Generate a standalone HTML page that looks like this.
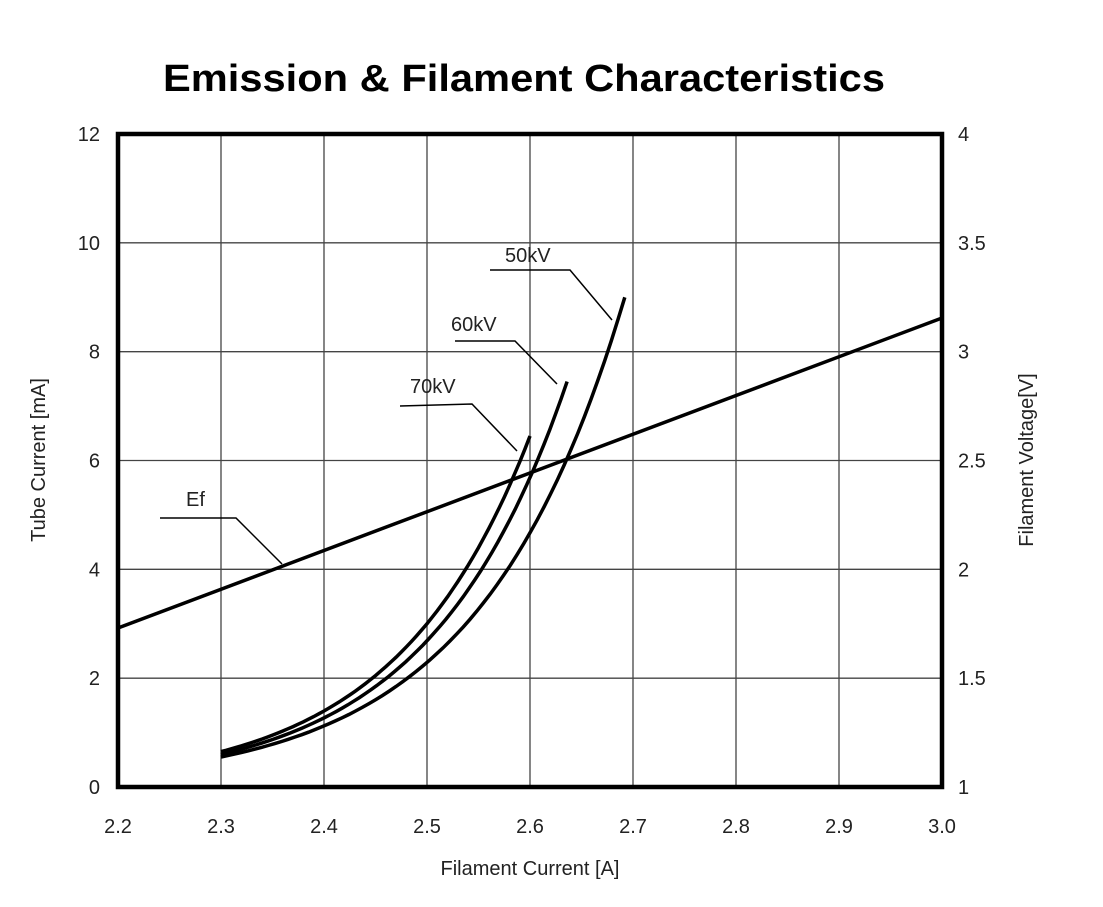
<!DOCTYPE html><html><head><style>body{margin:0;background:#fff}svg{display:block}text{font-family:"Liberation Sans",Arial,sans-serif;fill:#222}</style></head><body>
<svg id="s" width="1103" height="907" xmlns="http://www.w3.org/2000/svg">
<text x="163" y="91" font-size="38" font-weight="bold" textLength="722" lengthAdjust="spacingAndGlyphs" style="fill:#000">Emission &amp; Filament Characteristics</text>
<g id="grid" stroke="#444" stroke-width="1.3"></g>
<rect x="118" y="134" width="824" height="653" fill="none" stroke="#000" stroke-width="4.5"/>
<g id="lbl" font-size="20"></g>
<text x="530" y="875" font-size="20" text-anchor="middle">Filament Current [A]</text>
<text transform="translate(45,460) rotate(-90)" font-size="20" text-anchor="middle">Tube Current [mA]</text>
<text transform="translate(1033,460) rotate(-90)" font-size="20" text-anchor="middle">Filament Voltage[V]</text>
<g id="curves" fill="none" stroke="#000" stroke-width="3.5"></g>
<g fill="none" stroke="#000" stroke-width="1.5">
<polyline points="490,270 570,270 612,320"/>
<polyline points="455,341 515,341 557,384"/>
<polyline points="400,406 472,404 517,451"/>
<polyline points="160,518 236,518 282,564"/>
</g>
<g font-size="20">
<text x="505" y="262">50kV</text>
<text x="451" y="331">60kV</text>
<text x="410" y="393">70kV</text>
<text x="186" y="506">Ef</text>
</g>
</svg>
<script>
var ns="http://www.w3.org/2000/svg",L=118,R=942,T=134,B=787;
function X(v){return L+(v-2.2)/0.8*(R-L)}function Y(v){return B-v/12*(B-T)}
var g=document.getElementById('grid'),lb=document.getElementById('lbl');
function el(p,t,a,tx){var e=document.createElementNS(ns,t);for(var k in a)e.setAttribute(k,a[k]);if(tx!=null)e.textContent=tx;p.appendChild(e);return e}
for(var i=1;i<8;i++){var x=L+i*(R-L)/8;el(g,'line',{x1:x,x2:x,y1:T,y2:B})}
for(var i=1;i<6;i++){var y=T+i*(B-T)/6;el(g,'line',{x1:L,x2:R,y1:y,y2:y})}
var xl=['2.2','2.3','2.4','2.5','2.6','2.7','2.8','2.9','3.0'];
for(var i=0;i<9;i++)el(lb,'text',{x:L+i*(R-L)/8,y:833,'text-anchor':'middle'},xl[i]);
var yl=['0','2','4','6','8','10','12'],yr=['1','1.5','2','2.5','3','3.5','4'];
for(var i=0;i<7;i++){var y=B-i*(B-T)/6+7;el(lb,'text',{x:100,y:y,'text-anchor':'end'},yl[i]);el(lb,'text',{x:958,y:y},yr[i])}
var c=document.getElementById('curves');
el(c,'line',{x1:L,y1:628,x2:R,y2:318});
[[0.55,9,2.692],[0.6,7.45,2.636],[0.65,6.45,2.6]].forEach(function(p){
var b=Math.log(p[1]/p[0])/(p[2]-2.3),pts=[];
for(var k=0;k<=60;k++){var v=2.3+(p[2]-2.3)*k/60;pts.push(X(v).toFixed(1)+','+Y(p[0]*Math.exp(b*(v-2.3))).toFixed(1))}
el(c,'polyline',{points:pts.join(' ')})});
</script>
</body></html>
